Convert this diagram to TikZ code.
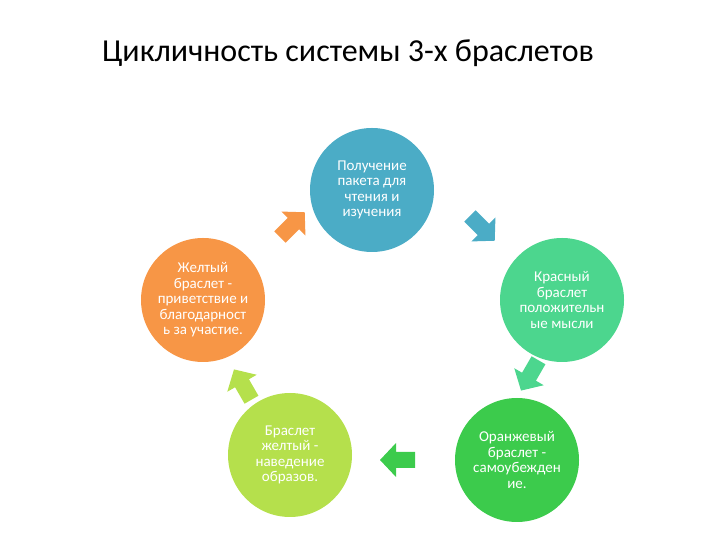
\documentclass[tikz,border=0pt]{standalone}
\usepackage{fontspec}
\setmainfont{Carlito}
\definecolor{cblue}{HTML}{4BACC6}
\definecolor{cgreen}{HTML}{4CD68E}
\definecolor{cgreen2}{HTML}{3CCB4C}
\definecolor{cyel}{HTML}{B5E04C}
\definecolor{corange}{HTML}{F79646}
\tikzset{
 circ/.style={circle,fill=#1,minimum size=124pt,inner sep=0pt,text=white,font=\fontsize{15}{15.5}\selectfont,align=center},
}
\newcommand{\blockarrow}[4]{% x,y,angle,color
 \fill[#4,shift={(#1,#2)},rotate=#3] (-17,-8) -- (2,-8) -- (2,-17) -- (18,0) -- (2,17) -- (2,8) -- (-17,8) -- cycle;}
\begin{document}
\begin{tikzpicture}[x=1pt,y=1pt]
\useasboundingbox (0,0) rectangle (720,540);
\node (title) at (348,487) {\fontsize{32}{34}\selectfont Цикличность системы 3-х браслетов};
\node[circ=cblue] (top) at (372,350) {Получение\\пакета для\\чтения и\\изучения};
\node[circ=cgreen] (right) at (562,240) {Красный\\браслет\\положительн\\ые мысли};
\node[circ=cgreen2] (br) at (517,80) {Оранжевый\\браслет -\\самоубежден\\ие.};
\node[circ=cyel] (bl) at (290,85) {Браслет\\желтый -\\наведение\\образов.};
\node[circ=corange] (left) at (203,240) {Желтый\\браслет -\\приветствие и\\благодарност\\ь за участие.};
\blockarrow{292}{315}{45}{corange}
\blockarrow{482}{312}{-45}{cblue}
\blockarrow{530}{165}{-120}{cgreen}
\blockarrow{398}{80}{180}{cgreen2}
\blockarrow{243}{155}{120}{cyel}
\end{tikzpicture}
\end{document}
